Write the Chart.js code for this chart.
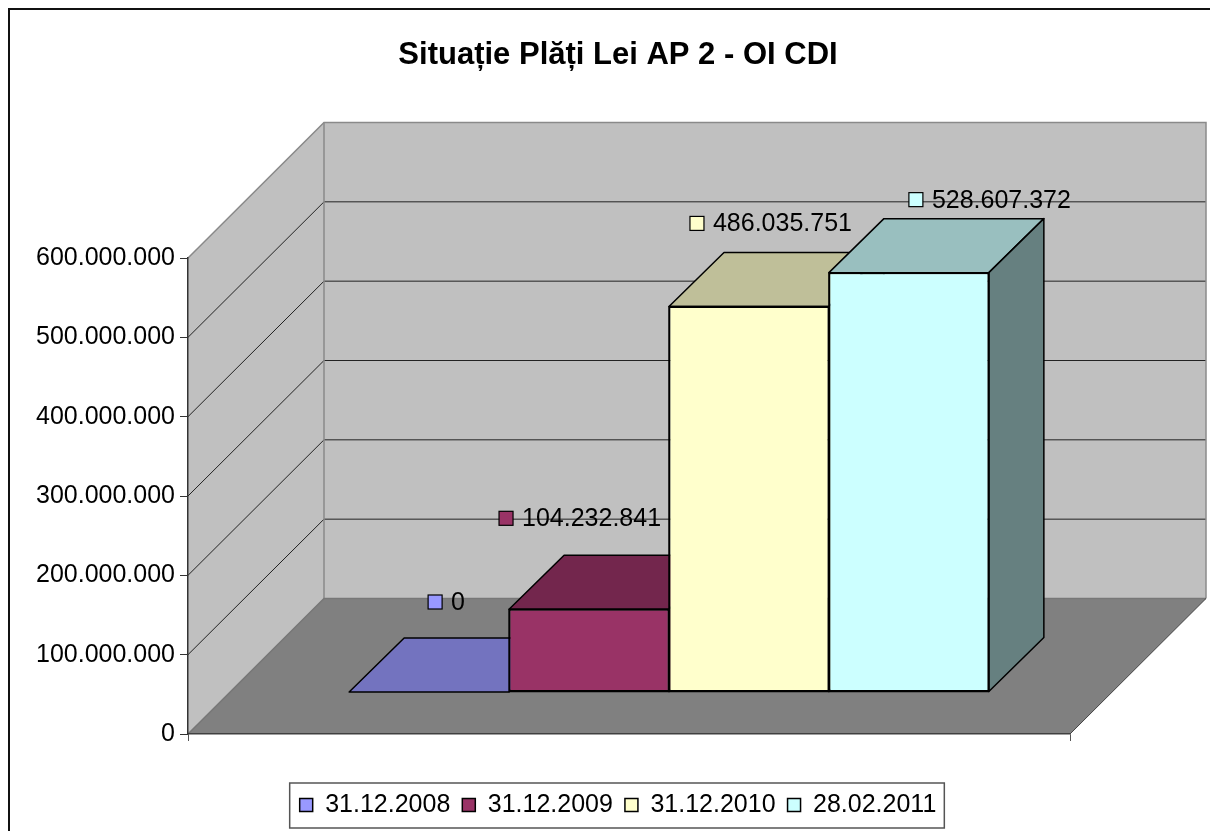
<!DOCTYPE html>
<html lang="ro">
<head>
    <meta charset="UTF-8">
    <title>Situație Plăți Lei AP 2 - OI CDI</title>
    <script src="https://cdn.jsdelivr.net/npm/chart.js"></script>
    <style>
        body {
            margin: 0;
            background-color: #fff;
        }

        #paymentsChart {
            display: block;
        }
    </style>
</head>
<body>
    <canvas id="paymentsChart" width="1210" height="831"></canvas>

    <script>
        // Data
        const categories = [''];
        const seriesNames = ['31.12.2008', '31.12.2009', '31.12.2010', '28.02.2011'];
        const paymentValues = [0, 104232841, 486035751, 528607372];
        const yTickValues = [0, 100000000, 200000000, 300000000, 400000000, 500000000, 600000000];

        // Classic Excel palette: front, top (75%) and side (50%) shades
        const frontColors = ['#9999FF', '#993366', '#FFFFCC', '#CCFFFF'];
        const topColors = ['#7373BF', '#73264D', '#BFBF99', '#99BFBF'];
        const sideColors = ['#4D4D80', '#4D1A33', '#808066', '#668080'];

        // where each value label sits relative to its bar top (pixels)
        const labelOffsets = [[39, -132], [-50, -133], [-19, -125], [40, -115]];

        const FONT = "'Liberation Sans', Arial, sans-serif";
        const DEPTH = { x: 136, y: -135.5 };     // depth of floor and side wall
        const BAR_SHIFT = { x: 40, y: -42 };     // bars stand mid-way on the floor
        const BAR_DEPTH = { x: 55, y: -54 };
        const TEXT_BLOCK_LEFT = 166;             // title and legend are centred on 166..1070
        const LEGEND_PAD = 12;
        const LEGEND_FONT = 25;

        const formatNumber = v => String(v).replace(/\B(?=(\d{3})+(?!\d))/g, '.');

        function polygon(ctx, pts, fill, stroke, lineWidth) {
            ctx.beginPath();
            ctx.moveTo(pts[0][0], pts[0][1]);
            for (let i = 1; i < pts.length; i++) ctx.lineTo(pts[i][0], pts[i][1]);
            ctx.closePath();
            if (fill) {
                ctx.fillStyle = fill;
                ctx.fill();
            }
            if (stroke) {
                ctx.strokeStyle = stroke;
                ctx.lineWidth = lineWidth || 1;
                ctx.stroke();
            }
        }

        function line(ctx, pts, color, lineWidth) {
            ctx.beginPath();
            ctx.moveTo(pts[0][0], pts[0][1]);
            for (let i = 1; i < pts.length; i++) ctx.lineTo(pts[i][0], pts[i][1]);
            ctx.strokeStyle = color;
            ctx.lineWidth = lineWidth || 1;
            ctx.stroke();
        }

        const excel3d = {
            id: 'excel3d',
            afterLayout(chart) {
                // Excel centres title and legend to the right of the value labels
                chart.titleBlock.left = TEXT_BLOCK_LEFT;
                chart.legend.left = TEXT_BLOCK_LEFT;
            },
            beforeDraw(chart) {
                const { ctx, scales: { x, y } } = chart;
                const left = x.left, right = x.right;
                const bottom = y.getPixelForValue(yTickValues[0]);
                const top = y.getPixelForValue(yTickValues[yTickValues.length - 1]);
                const dx = DEPTH.x, dy = DEPTH.y;

                ctx.save();
                ctx.fillStyle = '#fff';
                ctx.fillRect(0, 0, chart.width, chart.height);

                // outer chart frame (only top and left are inside the picture)
                line(ctx, [[9, chart.height], [9, 9], [chart.width, 9]], '#111', 2);

                // back wall, side wall, floor
                polygon(ctx, [[left + dx, top + dy], [right + dx, top + dy], [right + dx, bottom + dy], [left + dx, bottom + dy]], '#C0C0C0');
                polygon(ctx, [[left, top], [left + dx, top + dy], [left + dx, bottom + dy], [left, bottom]], '#C0C0C0');
                polygon(ctx, [[left, bottom], [right, bottom], [right + dx, bottom + dy], [left + dx, bottom + dy]], '#808080');

                // gridlines on side and back wall
                yTickValues.slice(1, -1).forEach(v => {
                    const py = y.getPixelForValue(v);
                    line(ctx, [[left, py], [left + dx, py + dy], [right + dx, py + dy]], '#222', 1);
                });

                // wall edges
                line(ctx, [[left, top], [left + dx, top + dy], [right + dx, top + dy], [right + dx, bottom + dy]], '#8a8a8a', 1.5);
                line(ctx, [[left + dx, top + dy], [left + dx, bottom + dy]], '#8a8a8a', 1.5);
                line(ctx, [[left, bottom], [left + dx, bottom + dy], [right + dx, bottom + dy]], '#777', 1.5);
                line(ctx, [[right, bottom], [right + dx, bottom + dy]], '#444', 1);
                ctx.restore();
            },
            beforeDatasetsDraw(chart) {
                const ctx = chart.ctx;
                ctx.save();
                ctx.translate(BAR_SHIFT.x, BAR_SHIFT.y);
                // draw left to right so every bar hides the one behind it correctly
                for (let i = 0; i < chart.data.datasets.length; i++) {
                    const el = chart.getDatasetMeta(i).data[0];
                    const { x, y, base, width } = el.getProps(['x', 'y', 'base', 'width'], true);
                    const l = x - width / 2, r = x + width / 2;
                    const bx = BAR_DEPTH.x, by = BAR_DEPTH.y;
                    ctx.lineJoin = 'round';
                    polygon(ctx, [[l, y], [r, y], [r + bx, y + by], [l + bx, y + by]], topColors[i], '#000', 1.5);
                    if (base - y > 0.5) {
                        polygon(ctx, [[r, y], [r + bx, y + by], [r + bx, base + by], [r, base]], sideColors[i], '#000', 1.5);
                    }
                    el.draw(ctx);
                    if (base - y > 0.5) {
                        ctx.strokeStyle = '#000';
                        ctx.lineWidth = 1.5;
                        ctx.strokeRect(l, y, width, base - y);
                    }
                }
                ctx.restore();
                return false;
            },
            afterDraw(chart) {
                const ctx = chart.ctx;
                ctx.save();

                // value labels with their little colour keys
                ctx.font = '25px ' + FONT;
                ctx.textBaseline = 'middle';
                ctx.textAlign = 'left';
                for (let i = 0; i < chart.data.datasets.length; i++) {
                    const el = chart.getDatasetMeta(i).data[0];
                    const lx = el.x + labelOffsets[i][0];
                    const ly = el.y + labelOffsets[i][1];
                    ctx.fillStyle = frontColors[i];
                    ctx.fillRect(lx, ly - 7, 14, 14);
                    ctx.strokeStyle = '#000';
                    ctx.lineWidth = 1.2;
                    ctx.strokeRect(lx, ly - 7, 14, 14);
                    ctx.fillStyle = '#000';
                    ctx.fillText(formatNumber(paymentValues[i]), lx + 23, ly + 1);
                }

                // frame around the legend row
                const lg = chart.legend;
                const rowWidth = lg.lineWidths[0];
                const startX = (lg.left + LEGEND_PAD + lg.right - rowWidth) / 2;
                const endX = startX + rowWidth - LEGEND_PAD;
                const cy = lg.top + LEGEND_PAD + LEGEND_FONT / 2;
                ctx.strokeStyle = '#555';
                ctx.lineWidth = 1.5;
                ctx.strokeRect(startX - 10, cy - 22, endX - startX + 18, 45);
                ctx.restore();
            }
        };

        const datasets = seriesNames.map((name, i) => ({
            label: name,
            data: [paymentValues[i]],
            backgroundColor: frontColors[i],
            borderColor: '#000',
            borderWidth: 1.5,
            borderSkipped: false
        }));

        new Chart(document.getElementById('paymentsChart'), {
            type: 'bar',
            data: {
                labels: categories,
                datasets: datasets
            },
            options: {
                responsive: false,
                animation: false,
                events: [],
                categoryPercentage: 0.7253,
                barPercentage: 1,
                layout: {
                    padding: { left: 2, right: 140, top: 0, bottom: 3.5 }
                },
                plugins: {
                    title: {
                        display: true,
                        text: 'Situație Plăți Lei AP 2 - OI CDI',
                        color: '#000',
                        font: { family: FONT, size: 31, weight: 'bold' },
                        padding: { top: 37, bottom: 183.8 }
                    },
                    legend: {
                        position: 'bottom',
                        labels: {
                            color: '#000',
                            font: { family: FONT, size: LEGEND_FONT },
                            boxWidth: 13,
                            boxHeight: 13,
                            padding: LEGEND_PAD
                        }
                    },
                    tooltip: { enabled: false }
                },
                scales: {
                    x: {
                        grid: { drawOnChartArea: false, tickLength: 7, color: '#555' },
                        border: { color: '#404040', width: 1.5 },
                        ticks: { display: false },
                        afterFit: scale => { scale.height = 46.5; }
                    },
                    y: {
                        min: yTickValues[0],
                        max: yTickValues[yTickValues.length - 1],
                        afterBuildTicks: scale => {
                            scale.ticks = yTickValues.map(v => ({ value: v }));
                        },
                        grid: { drawOnChartArea: false, tickLength: 8, color: '#333' },
                        border: { color: '#333', width: 1.5 },
                        ticks: {
                            color: '#000',
                            padding: 5,
                            font: { family: FONT, size: 25 },
                            callback: v => formatNumber(v)
                        },
                        afterFit: scale => { scale.width = 186; }
                    }
                }
            },
            plugins: [excel3d]
        });
    </script>
</body>
</html>
